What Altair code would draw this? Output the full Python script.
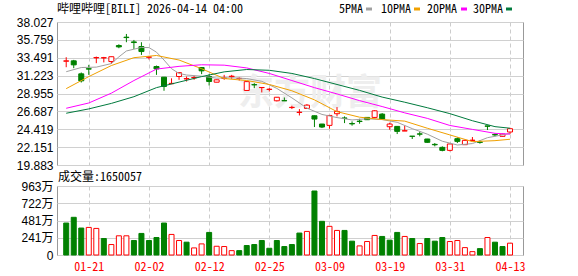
import altair as alt
import pandas as pd

# ---------------- data ----------------
dates = ["01-15","01-16","01-20","01-21","01-22","01-23","01-26","01-27","01-28","01-29",
         "01-30","02-02","02-03","02-04","02-05","02-06","02-09","02-10","02-11","02-12",
         "02-13","02-17","02-18","02-19","02-20","02-23","02-24","02-25","02-26","02-27",
         "03-02","03-03","03-04","03-05","03-06","03-09","03-10","03-11","03-12","03-13",
         "03-16","03-17","03-18","03-19","03-20","03-23","03-24","03-25","03-26","03-27",
         "03-30","03-31","04-01","04-02","04-06","04-07","04-08","04-09","04-10","04-13"]

opens = [33.05,33.10,31.45,32.10,33.48,33.47,33.01,35.04,36.10,35.50,
         34.91,33.55,32.38,31.03,30.20,31.11,30.80,30.95,32.25,31.11,
         30.39,30.88,31.10,30.85,29.34,30.08,29.70,29.47,28.03,28.05,
         27.17,26.55,27.06,26.13,25.08,24.91,26.39,25.85,25.15,25.45,
         25.92,25.92,26.34,24.74,24.78,24.20,23.54,23.83,23.18,22.50,
         22.12,21.74,23.22,22.46,23.00,22.80,24.84,23.74,23.52,24.07]
highs = [33.56,33.22,31.62,32.59,33.64,33.60,33.64,35.20,36.51,35.75,
         35.46,33.72,32.50,31.05,30.88,31.62,31.11,31.20,32.30,31.41,
         30.72,31.32,31.32,31.00,30.48,30.27,29.75,29.63,28.50,28.45,
         27.40,26.98,27.61,26.15,25.10,26.17,27.23,26.05,25.42,25.75,
         25.95,26.85,26.47,25.25,24.80,24.87,23.55,24.15,23.20,22.67,
         22.25,22.55,23.39,23.10,23.43,23.01,24.86,23.90,23.85,24.50]
lows = [32.29,32.17,30.35,31.32,32.80,32.90,32.71,34.70,35.46,34.61,
        33.85,33.27,31.32,29.30,30.18,30.69,30.48,30.69,31.41,29.97,
        30.39,30.69,30.82,30.60,29.30,29.63,29.09,29.21,27.95,28.00,
        26.98,26.17,27.06,24.70,24.57,24.49,26.05,25.20,24.87,25.12,
        25.60,25.84,25.71,24.36,23.81,24.20,23.18,23.52,22.70,22.25,
        21.62,21.62,22.67,22.46,22.88,22.59,24.32,23.52,23.50,23.81]
closes = [33.10,32.59,30.56,32.05,33.52,33.50,33.62,34.87,36.05,35.42,
          34.28,33.60,32.08,29.85,30.24,31.60,30.85,30.98,31.83,30.48,
          30.69,30.92,31.15,30.88,30.46,30.05,29.72,29.50,28.48,28.03,
          27.20,26.58,27.48,25.71,24.70,26.17,26.68,25.80,25.10,25.40,
          25.63,26.76,25.71,25.08,24.15,24.23,23.52,23.80,22.76,22.45,
          21.74,22.55,22.88,23.01,23.03,22.76,24.80,23.70,23.81,24.49]

# volume in 万 shares
volumes = [446,526,376,385,371,230,146,268,268,202,
           301,202,244,446,287,202,179,99,155,315,
           122,118,61,61,132,146,202,94,202,118,
           146,306,329,893,470,400,343,343,193,127,
           188,273,259,207,315,259,230,160,230,193,
           244,188,202,103,47,89,244,179,118,165]
vol_up = [0,0,0,1,1,0,1,1,1,0,
          0,0,0,0,1,1,0,1,1,0,
          1,1,1,0,0,0,0,0,0,0,
          0,0,1,0,0,1,1,0,0,1,
          1,1,0,0,0,1,0,1,0,0,
          0,1,1,1,1,0,1,0,0,1]

ma5_idx = [0,2,4,6,7,8,10,11,12,13,14,15,16,18,20,22,24,26,28,30,32,34,36,38,40,42,44,46,48,50,52,54,56,58,59]
ma5 = [31.72,32.25,32.30,32.75,33.60,34.35,34.80,34.78,34.20,33.20,32.10,31.50,31.30,31.15,30.90,30.95,30.85,30.50,
       29.60,28.40,27.10,26.30,25.90,25.60,25.75,25.65,25.30,24.50,23.80,22.90,22.42,22.60,23.35,23.70,23.90]
ma_idx = [0,3,6,9,12,15,18,21,24,27,30,33,36,39,42,45,48,51,54,57,59]
ma10 = [29.57,31.10,32.50,33.50,33.78,33.20,32.10,30.85,30.60,30.10,29.30,28.15,26.65,25.95,25.65,25.45,24.55,23.70,22.85,22.97,23.15]
ma20 = [27.08,27.75,29.00,30.60,32.05,32.40,32.60,32.55,32.20,31.50,30.60,29.70,28.90,28.05,27.30,26.50,25.80,24.90,24.40,23.90,23.80]
ma30 = [26.45,27.00,27.70,28.55,29.70,30.40,31.10,31.70,32.00,31.90,31.50,30.85,30.10,29.35,28.50,27.85,27.15,26.40,25.50,24.75,24.55]

price_ticks = [19.883,22.151,24.419,26.687,28.955,31.223,33.491,35.759,38.027]
vol_ticks = [0,240.75,481.5,722.25,963]
vol_tick_labels = ["0","241万","481万","722万","963万"]
date_tick_idx = [3,11,19,27,35,43,51,59]

title_text = "哔哩哔哩[BILI] 2026-04-14 04:00"
vol_title = "成交量:1650057"
legend_names = ["5PMA","10PMA","20PMA","30PMA"]
ma_colors = ["#a0a0a0","#f0a000","#ff00ff","#007a3d"]

# ---------------- styles ----------------
RED = "#ff0000"
GREEN = "#008000"
MONO = "Noto Sans Mono CJK SC, Noto Sans CJK SC, monospace"
SANS = "Liberation Sans, Noto Sans CJK SC, sans-serif"
W = 466
PH = 143
VH = 69

n = len(closes)
cdf = pd.DataFrame({"i": list(range(n)), "o": opens, "h": highs, "l": lows, "c": closes, "d": dates})
vdf = pd.DataFrame({"i": list(range(n)), "v": volumes, "up": vol_up})

rows = []
for name, ix, vals in [("MA5", ma5_idx, ma5), ("MA10", ma_idx, ma10), ("MA20", ma_idx, ma20), ("MA30", ma_idx, ma30)]:
    for a, b in zip(ix, vals):
        rows.append({"s": name, "i": a, "v": b})
mdf = pd.DataFrame(rows)
one = pd.DataFrame({"k": [0]})

date_expr = "[" + ",".join("'%s'" % dates[k] for k in date_tick_idx) + "][indexof([" + ",".join(str(k) for k in date_tick_idx) + "], datum.value)]"
vol_expr = "[" + ",".join("'%s'" % s for s in vol_tick_labels) + "][indexof([" + ",".join(str(v) for v in vol_ticks) + "], datum.value)]"

xscale = alt.Scale(domain=[-0.56, 60.06], nice=False, zero=False)
yscale = alt.Scale(domain=[19.883, 38.027], nice=False, zero=False)

x_price_axis = alt.Axis(values=date_tick_idx, tickCount=len(date_tick_idx), labels=False, ticks=False, domain=False,
                        grid=True, gridColor="#cccccc", gridDash=[4, 3], title=None)
y_price_axis = alt.Axis(values=price_ticks, tickCount=len(price_ticks), format=".3f", labelFont=SANS,
                        labelFontSize=12, labelColor="#000000", labelOverlap=False, labelBound=False,
                        ticks=False, domain=False, grid=True, gridColor="#d0d0d0", labelPadding=4, title=None)

X = alt.X("i:Q", scale=xscale, axis=x_price_axis)

up_test = "datum.c >= datum.o"

anchor = alt.Chart(one).mark_rule(opacity=0, strokeWidth=0).encode(
    x=alt.value(-56), x2=alt.value(-55), y=alt.value(-21.5), y2=alt.value(-21.5))

watermark = alt.Chart(one).mark_text(text="东方财富", fontSize=36, fontWeight="bold", color="#eeeeee",
                                     font="Noto Sans CJK SC", align="center", baseline="middle").encode(
    x=alt.value(253), y=alt.value(72))

wicks = alt.Chart(cdf).mark_rule(strokeWidth=1).encode(
    x=X,
    y=alt.Y("l:Q", scale=yscale, axis=y_price_axis),
    y2="h:Q",
    color=alt.condition(up_test, alt.value(RED), alt.value(GREEN)),
)

bodies = alt.Chart(cdf).mark_bar(size=5, strokeWidth=1).encode(
    x=X,
    y=alt.Y("o:Q", scale=yscale, axis=y_price_axis),
    y2="c:Q",
    fill=alt.condition(up_test, alt.value("#ffffff"), alt.value(GREEN)),
    stroke=alt.condition(up_test, alt.value(RED), alt.value(GREEN)),
)

lines = alt.Chart(mdf).mark_line(strokeWidth=1).encode(
    x=X,
    y=alt.Y("v:Q", scale=yscale, axis=y_price_axis),
    color=alt.Color("s:N", scale=alt.Scale(domain=["MA5", "MA10", "MA20", "MA30"], range=ma_colors), legend=None),
    detail="s:N",
)

title = alt.Chart(one).mark_text(align="left", baseline="alphabetic", font=MONO, fontSize=12, color="#000000").encode(
    x=alt.value(0), y=alt.value(-9.5), text=alt.value(title_text))

legend_text_x = [282, 324, 370, 416]
legend_sw_x = [309, 357, 404, 449]
legend_layers = []
for name, col, tx, sx in zip(legend_names, ma_colors, legend_text_x, legend_sw_x):
    legend_layers.append(alt.Chart(one).mark_text(align="left", baseline="alphabetic", font=MONO, fontSize=12,
                                                  color="#000000").encode(
        x=alt.value(tx), y=alt.value(-9.5), text=alt.value(name)))
    legend_layers.append(alt.Chart(one).mark_rect(color=col).encode(
        x=alt.value(sx), x2=alt.value(sx + 6), y=alt.value(-14.5), y2=alt.value(-11.5)))

price = alt.layer(anchor, watermark, wicks, bodies, lines, title, *legend_layers).properties(width=W, height=PH)

# ---------------- volume panel ----------------
x_vol_axis = alt.Axis(values=date_tick_idx, tickCount=len(date_tick_idx), labelExpr=date_expr, labelFont=MONO,
                      labelFontSize=12, labelColor=RED, ticks=False, domain=False, grid=True, gridColor="#cccccc",
                      labelOverlap=False, labelBound=False, gridDash=[4, 3], labelPadding=6, title=None)
y_vol_axis = alt.Axis(values=vol_ticks, tickCount=len(vol_ticks), labelExpr=vol_expr, labelFont=SANS,
                      labelFontSize=12, labelColor="#000000", labelOverlap=False, labelBound=False,
                      ticks=False, domain=False, grid=True, gridColor="#d0d0d0", labelPadding=4, title=None)

vbars = alt.Chart(vdf).mark_bar(size=5, strokeWidth=1).encode(
    x=alt.X("i:Q", scale=xscale, axis=x_vol_axis),
    y=alt.Y("v:Q", scale=alt.Scale(domain=[0, 963], nice=False), axis=y_vol_axis),
    fill=alt.condition("datum.up == 1", alt.value("#ffffff"), alt.value(GREEN)),
    stroke=alt.condition("datum.up == 1", alt.value(RED), alt.value(GREEN)),
)

vtitle = alt.Chart(one).mark_text(align="left", baseline="alphabetic", font=MONO, fontSize=12, color="#000000").encode(
    x=alt.value(1), y=alt.value(-5.5), text=alt.value(vol_title))

volume = alt.layer(vbars, vtitle).properties(width=W, height=VH)

chart = alt.vconcat(price, volume, spacing=21, bounds="flush").properties(
    padding=0, background="#ffffff"
).configure_view(stroke="#999999", strokeWidth=1)

chart.save("out.html", embed_options={"renderer": "svg", "actions": False})
